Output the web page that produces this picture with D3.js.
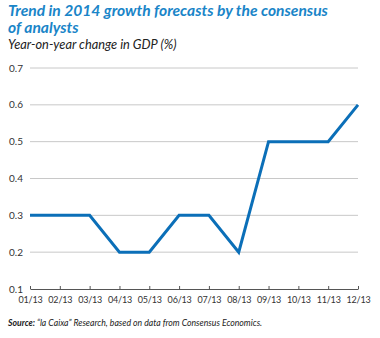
<!DOCTYPE html>
<html lang="en">
<head>
<meta charset="UTF-8">
<script src="https://cdn.jsdelivr.net/npm/d3@7"></script>
<style>
  body { margin: 0; background: #fff; }
  svg { display: block; font-family: Lato, "Open Sans", sans-serif; }
</style>
</head>
<body>
<script>
    const months = ["01/13","02/13","03/13","04/13","05/13","06/13","07/13","08/13","09/13","10/13","11/13","12/13"];
    const forecast = [0.3, 0.3, 0.3, 0.2, 0.2, 0.3, 0.3, 0.2, 0.5, 0.5, 0.5, 0.6];
    const yTicks = [0.1, 0.2, 0.3, 0.4, 0.5, 0.6, 0.7];

    const w = 380, h = 338;
    const plotLeft = 30, plotRight = 358, plotTop = 68, plotBottom = 289;

    const svg = d3.select("body").append("svg")
        .attr("width", w)
        .attr("height", h);

    //titles
    svg.append("text")
        .attr("x", 8).attr("y", 15.5)
        .attr("fill", "#1a85c8")
        .style("font-size", "15.6px").style("font-weight", "bold").style("font-style", "italic")
        .text("Trend in 2014 growth forecasts by the consensus");
    svg.append("text")
        .attr("x", 8).attr("y", 32.5)
        .attr("fill", "#1a85c8")
        .style("font-size", "15.6px").style("font-weight", "bold").style("font-style", "italic")
        .text("of analysts");
    svg.append("text")
        .attr("x", 8).attr("y", 49)
        .attr("fill", "#222")
        .style("font-size", "12.8px").style("font-style", "italic")
        .text("Year-on-year change in GDP (%)");

    const x = d3.scalePoint().domain(months).range([plotLeft, plotRight]);
    const y = d3.scaleLinear().domain([0.1, 0.7]).range([plotBottom, plotTop]);

    //grid
    svg.append("g")
        .selectAll("line")
        .data(yTicks.slice(1))
        .join("line")
        .attr("x1", plotLeft).attr("x2", plotRight)
        .attr("y1", d => y(d)).attr("y2", d => y(d))
        .attr("stroke", "#c8c8c8").attr("stroke-width", 1);

    //y labels
    svg.append("g")
        .selectAll("text")
        .data(yTicks)
        .join("text")
        .attr("x", 9).attr("y", d => y(d) + 3.5)
        .attr("fill", "#333")
        .style("font-size", "10px")
        .text(d => d.toFixed(1));

    //x axis
    const xAxis = d3.axisBottom(x).tickSizeInner(-3).tickSizeOuter(0).tickPadding(8);
    const gx = svg.append("g")
        .attr("transform", `translate(0,${plotBottom})`)
        .call(xAxis);
    gx.select(".domain").attr("stroke", "#555");
    gx.selectAll(".tick line").attr("stroke", "#555");
    gx.selectAll(".tick text")
        .attr("fill", "#333")
        .style("font-size", "9px")
        .style("letter-spacing", "-0.2px")
        .style("font-family", "Lato, sans-serif");

    //line
    const line = d3.line()
        .x((d, i) => x(months[i]))
        .y(d => y(d));
    svg.append("path")
        .datum(forecast)
        .attr("d", line)
        .attr("fill", "none")
        .attr("stroke", "#0b6fb8")
        .attr("stroke-width", 3);

    //source
    const src = svg.append("text")
        .attr("x", 8).attr("y", 326)
        .attr("fill", "#222")
        .style("font-size", "8.7px").style("font-style", "italic");
    src.append("tspan").style("font-weight", "bold").text("Source: ");
    src.append("tspan").text("\u201Cla Caixa\u201D Research, based on data from Consensus Economics.");
</script>
</body>
</html>
